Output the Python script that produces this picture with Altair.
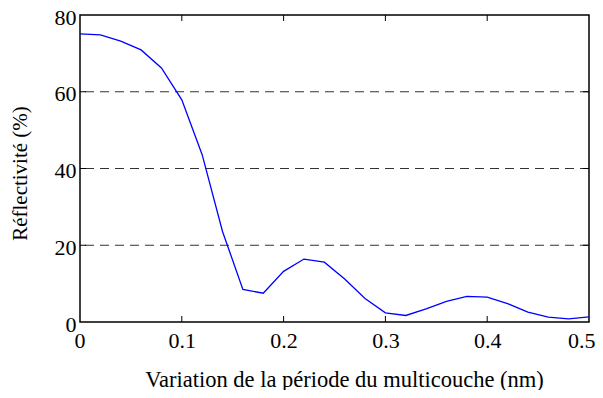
import altair as alt
import pandas as pd

# data
x_vals = [0.00, 0.02, 0.04, 0.06, 0.08, 0.10, 0.12, 0.14, 0.16, 0.18, 0.20, 0.22, 0.24,
          0.26, 0.28, 0.30, 0.32, 0.34, 0.36, 0.38, 0.40, 0.42, 0.44, 0.46, 0.48, 0.50]
refl = [75.1, 74.8, 73.2, 70.9, 66.2, 57.9, 43.6, 23.6, 8.5, 7.5, 13.2, 16.4, 15.6,
        11.2, 6.1, 2.4, 1.7, 3.4, 5.4, 6.7, 6.5, 4.8, 2.6, 1.25, 0.8, 1.35]
x_ticks = [0, 0.1, 0.2, 0.3, 0.4, 0.5]
y_ticks = [0, 20, 40, 60, 80]
grid_y = [20, 40, 60]
x_inner = [0.1, 0.2, 0.3, 0.4]

W, H = 509, 307
FONT = "Liberation Serif"

df = pd.DataFrame({"x": x_vals, "r": refl})
xs = alt.Scale(domain=[0, 0.5], nice=False, zero=False)
ys = alt.Scale(domain=[0, 80], nice=False)

x_axis = alt.Axis(
    values=x_ticks, labelExpr="datum.value == 0 ? '0' : format(datum.value, '.1f')",
    title="Variation de la période du multicouche (nm)", ticks=False, domain=False, grid=False,
    labelFont=FONT, labelFontSize=22, labelColor="black", labelPadding=8,
    labelFlush=True, labelFlushOffset=6,
    titleFont=FONT, titleFontSize=22.5, titleFontWeight="normal", titleColor="black",
    titleX=264, titleY=64, titleBaseline="alphabetic", titleAlign="center")
y_axis = alt.Axis(
    values=y_ticks, title="Réflectivité (%)", ticks=False, domain=False, grid=False,
    labelFont=FONT, labelFontSize=22, labelColor="black", labelPadding=4,
    labelBaseline="middle", labelFlush=False, labelOffset=2,
    titleFont=FONT, titleFontSize=21, titleFontWeight="normal", titleColor="black",
    titleX=-54, titleY=158, titleBaseline="alphabetic", titleAlign="center",
    titleAngle=270)

line = alt.Chart(df).mark_line(color="#0000FF", strokeWidth=1.3, clip=True).encode(
    x=alt.X("x:Q", scale=xs, axis=x_axis),
    y=alt.Y("r:Q", scale=ys, axis=y_axis),
)

grid = alt.Chart(pd.DataFrame({"g": grid_y})).mark_rule(
    strokeDash=[9, 6], color="#333333", strokeWidth=1).encode(
    y=alt.Y("g:Q", scale=ys, axis=y_axis))

tx = pd.DataFrame({"t": x_inner})
ty = pd.DataFrame({"t": grid_y})
tick_b = alt.Chart(tx).mark_rule(color="black").encode(
    x=alt.X("t:Q", scale=xs, axis=x_axis), y=alt.value(H), y2=alt.value(H - 6))
tick_t = alt.Chart(tx).mark_rule(color="black").encode(
    x=alt.X("t:Q", scale=xs, axis=x_axis), y=alt.value(0), y2=alt.value(6))
tick_l = alt.Chart(ty).mark_rule(color="black").encode(
    y=alt.Y("t:Q", scale=ys, axis=y_axis), x=alt.value(0), x2=alt.value(6))
tick_r = alt.Chart(ty).mark_rule(color="black").encode(
    y=alt.Y("t:Q", scale=ys, axis=y_axis), x=alt.value(W), x2=alt.value(W - 6))

chart = alt.layer(grid, tick_b, tick_t, tick_l, tick_r, line).properties(
    width=W, height=H,
    autosize=alt.AutoSizeParams(type="none"),
    padding={"left": 72, "top": 7, "right": 6, "bottom": 68},
    background="white",
).configure_view(stroke="black", strokeWidth=1.5)

chart.save("out.html", embed_options={"renderer": "svg", "actions": False})
